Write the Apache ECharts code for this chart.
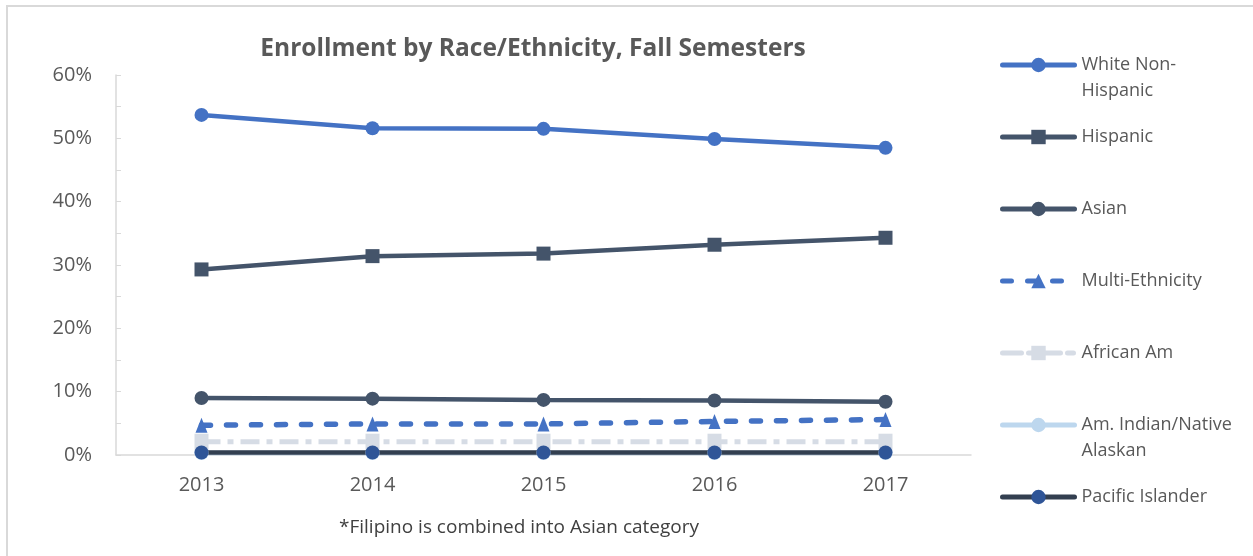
<!DOCTYPE html>
<html lang="en">
<head>
    <meta charset="UTF-8">
    <title>Enrollment by Race/Ethnicity</title>
    <script src="https://cdn.jsdelivr.net/npm/echarts@6/dist/echarts.min.js"></script>
    <style>
        html, body { margin: 0; padding: 0; background: #fff; }
        #chart1 { width: 1253px; height: 556px; }
    </style>
</head>
<body>
<div id="chart1"></div>
<script>
    var years = ['2013', '2014', '2015', '2016', '2017'];

    var whiteNonHispanic = [53.7, 51.6, 51.5, 49.9, 48.5];
    var hispanic = [29.3, 31.4, 31.8, 33.2, 34.3];
    var asian = [9.0, 8.9, 8.7, 8.6, 8.4];
    var multiEthnicity = [4.7, 4.9, 4.9, 5.3, 5.6];
    var africanAm = [2.1, 2.1, 2.1, 2.1, 2.1];
    var amIndian = [0.3, 0.3, 0.3, 0.3, 0.3];
    var pacificIslander = [0.4, 0.4, 0.4, 0.4, 0.4];

    var yTicks = [0, 10, 20, 30, 40, 50, 60];

    var font = '"Open Sans", "Noto Sans", sans-serif';
    var grey = '#595959';

    // one legend per series so each row sits where it does in the original
    function legendAt(name, label, y, twoLines, lineType) {
        return {
            data: [name],
            left: 1000,
            top: twoLines ? y - 39 : y - 13,
            padding: 0,
            itemWidth: 72,
            itemHeight: 18,
            itemGap: 0,
            lineStyle: { width: 5, type: lineType || 'solid', cap: 'round' },
            // blank first line keeps the icon level with the first text line
            formatter: function () { return twoLines ? ' \n' + label : label; },
            textStyle: {
                fontFamily: font,
                fontSize: 18,
                color: grey,
                lineHeight: 26,
                padding: [0, 0, 0, 2]
            }
        };
    }

    var ctx1 = echarts.init(document.getElementById('chart1'));

    ctx1.setOption({
        animation: false,
        title: [{
            text: 'Enrollment by Race/Ethnicity, Fall Semesters',
            left: 528,
            top: 32,
            textAlign: 'center',
            textStyle: { fontFamily: font, fontSize: 24.5, fontWeight: 'bold', color: grey }
        }, {
            text: '*Filipino is combined into Asian category',
            left: 514,
            top: 513,
            textAlign: 'center',
            textStyle: { fontFamily: font, fontSize: 19, fontWeight: 'normal', color: '#404040' }
        }],
        graphic: [{
            type: 'rect',
            shape: { x: 7, y: 6, width: 1400, height: 700 },
            style: { fill: 'none', stroke: '#d9d9d9', lineWidth: 2 },
            silent: true
        }],
        legend: [
            legendAt('White Non-Hispanic', 'White Non-\nHispanic', 65, true),
            legendAt('Hispanic', 'Hispanic', 137, false),
            legendAt('Asian', 'Asian', 209, false),
            legendAt('Multi-Ethnicity', 'Multi-Ethnicity', 281, false, [9, 16]),
            legendAt('African Am', 'African Am', 353, false, [19, 7, 6, 7]),
            legendAt('Am. Indian/Native Alaskan', 'Am. Indian/Native\nAlaskan', 425, true),
            legendAt('Pacific Islander', 'Pacific Islander', 497, false)
        ],
        grid: { left: 116, right: 282, top: 75, bottom: 101, containLabel: false },
        xAxis: {
            type: 'category',
            data: years,
            boundaryGap: true,
            axisLine: { lineStyle: { color: '#d9d9d9', width: 1.5 } },
            axisTick: { show: false },
            axisLabel: { fontFamily: font, fontSize: 20, color: grey, margin: 20 }
        },
        yAxis: {
            type: 'value',
            min: yTicks[0],
            max: yTicks[yTicks.length - 1],
            interval: 10,
            axisLine: { show: true, lineStyle: { color: '#d9d9d9', width: 1.5 } },
            axisTick: { show: true, inside: true, length: 5, lineStyle: { color: '#d9d9d9' } },
            minorTick: { show: true, splitNumber: 2, length: 5, lineStyle: { color: '#d9d9d9' } },
            splitLine: { show: false },
            axisLabel: {
                fontFamily: font, fontSize: 20, color: grey, margin: 24,
                formatter: function (v) { return v + '%'; }
            }
        },
        series: [{
            name: 'White Non-Hispanic',
            type: 'line',
            data: whiteNonHispanic,
            symbol: 'circle',
            symbolSize: 14,
            lineStyle: { color: '#4472C4', width: 4.5 },
            itemStyle: { color: '#4472C4' }
        }, {
            name: 'Hispanic',
            type: 'line',
            data: hispanic,
            symbol: 'rect',
            symbolSize: 14,
            lineStyle: { color: '#44546A', width: 4.5 },
            itemStyle: { color: '#44546A' }
        }, {
            name: 'Asian',
            type: 'line',
            data: asian,
            symbol: 'circle',
            symbolSize: 14,
            lineStyle: { color: '#44546A', width: 4.5 },
            itemStyle: { color: '#44546A' }
        }, {
            name: 'Multi-Ethnicity',
            type: 'line',
            data: multiEthnicity,
            symbol: 'triangle',
            symbolSize: [12, 15],
            lineStyle: { color: '#4472C4', width: 5.5, type: [9, 16], cap: 'round' },
            itemStyle: { color: '#4472C4' }
        }, {
            name: 'African Am',
            type: 'line',
            data: africanAm,
            symbol: 'rect',
            symbolSize: [14, 16],
            lineStyle: { color: '#D6DCE5', width: 5, type: [19, 7, 6, 7] },
            itemStyle: { color: '#D6DCE5' }
        }, {
            name: 'Am. Indian/Native Alaskan',
            type: 'line',
            data: amIndian,
            symbol: 'circle',
            symbolSize: 14,
            lineStyle: { color: '#BDD7EE', width: 4.5 },
            itemStyle: { color: '#BDD7EE' }
        }, {
            name: 'Pacific Islander',
            type: 'line',
            data: pacificIslander,
            symbol: 'circle',
            symbolSize: 14,
            lineStyle: { color: '#333F50', width: 4.5 },
            itemStyle: { color: '#2F5597' }
        }]
    });
</script>
</body>
</html>
